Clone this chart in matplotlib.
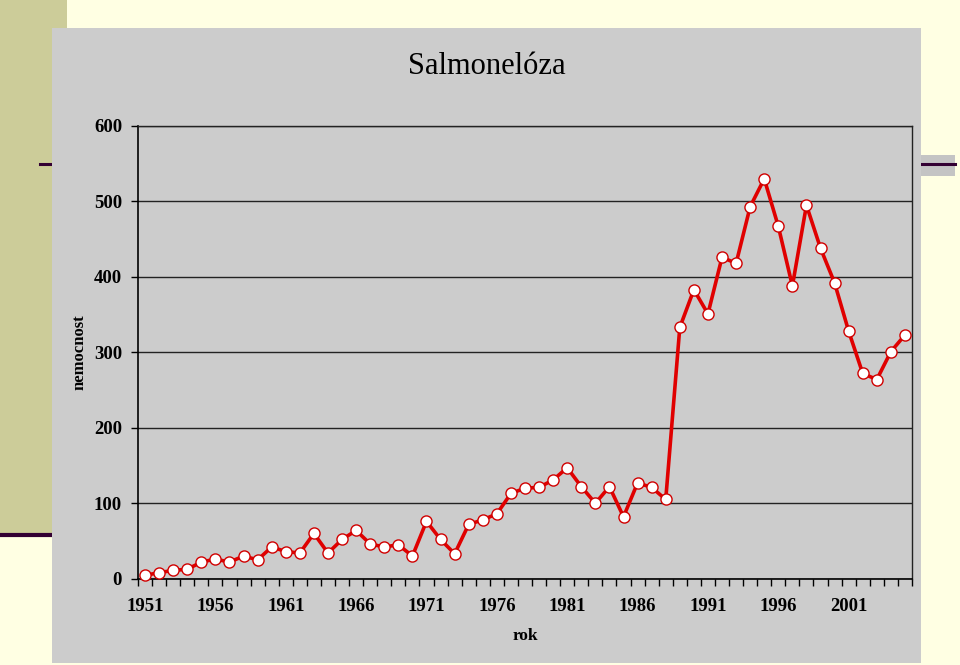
import numpy as np
import matplotlib.pyplot as plt
from matplotlib.patches import Rectangle
from matplotlib.lines import Line2D

# data
roky = list(range(1951, 2006))
nemocnost = [4.5, 8, 11, 12.5, 22, 26, 22, 30, 25, 42,
             36, 34, 60, 34, 52, 64, 46, 42, 45, 30,
             76, 52, 33, 72, 78, 86, 113, 120, 121, 131,
             147, 122, 100, 122, 82, 127, 121, 105, 333, 383,
             351, 426, 418, 493, 530, 467, 388, 495, 438, 392,
             328, 272, 264, 301, 323]
yticks = [0, 100, 200, 300, 400, 500, 600]

plt.rcParams['font.family'] = ['Liberation Serif', 'DejaVu Serif']

fig = plt.figure(figsize=(9.6, 6.65), dpi=100)
fig.patch.set_facecolor('#FFFFE3')

W, H = 960.0, 665.0
def px(x0, y0, x1, y1):
    # pixel box (top-left origin) -> figure fraction
    return (x0 / W, 1 - y1 / H, (x1 - x0) / W, (y1 - y0) / H)

# slide decoration
x, y, w, h = px(0, 0, 67, 535)
fig.patches.append(Rectangle((x, y), w, h, transform=fig.transFigure,
                             facecolor='#CCCC99', edgecolor='none', zorder=-5))
x, y, w, h = px(900, 155, 955, 176)
fig.patches.append(Rectangle((x, y), w, h, transform=fig.transFigure,
                             facecolor='#C4C4C4', edgecolor='none', zorder=-5))
fig.lines.append(Line2D([0, 52 / W], [1 - 535 / H] * 2, transform=fig.transFigure,
                        color='#330033', lw=3, zorder=-4))
fig.lines.append(Line2D([40 / W, 955 / W], [1 - 164 / H] * 2, transform=fig.transFigure,
                        color='#330033', lw=2.2, zorder=-4))

# chart panel
x, y, w, h = px(52, 28, 921, 663)
fig.patches.append(Rectangle((x, y), w, h, transform=fig.transFigure,
                             facecolor='#CCCCCC', edgecolor='none', zorder=-2))

ax = fig.add_axes(px(138, 126, 912, 578.7))
ax.set_facecolor('#CCCCCC')

xs = np.arange(len(roky))
ax.plot(xs, nemocnost, color='#E00000', lw=2.6, marker='o', markersize=8,
        markerfacecolor='white', markeredgecolor='#D00000', markeredgewidth=1.0,
        zorder=3, clip_on=False)

ax.set_xlim(-0.5, len(roky) - 0.5)
ax.set_ylim(0, 600)

ax.set_yticks(yticks)
ax.set_yticklabels([str(v) for v in yticks])
ax.grid(axis='y', color='#222222', lw=1.0)
ax.set_axisbelow(True)

lab_idx = [i for i, r in enumerate(roky) if (r - 1951) % 5 == 0 and r <= 2001]
ax.set_xticks(lab_idx)
ax.set_xticklabels([str(roky[i]) for i in lab_idx])
ax.set_xticks(np.arange(-0.5, len(roky)), minor=True)
ax.tick_params(axis='x', which='major', length=0, pad=14)
ax.tick_params(axis='x', which='minor', length=5, width=1, color='black', direction='out')
ax.tick_params(axis='y', length=5, width=1, color='black', direction='out', pad=6.5)
for lab in ax.get_xticklabels() + ax.get_yticklabels():
    lab.set_fontsize(13.5)
    lab.set_fontweight('bold')

for s in ['left', 'bottom']:
    ax.spines[s].set_color('black')
    ax.spines[s].set_linewidth(1.2)
for s in ['top', 'right']:
    ax.spines[s].set_color('#222222')
    ax.spines[s].set_linewidth(1.0)

fig.text(486.5 / W, 1 - 67 / H, 'Salmonelóza', ha='center', va='center', fontsize=22)
fig.text(80 / W, 1 - 352 / H, 'nemocnost', ha='center', va='center', rotation=90,
         fontsize=12, fontweight='bold')
fig.text(525 / W, 1 - 636 / H, 'rok', ha='center', va='center', fontsize=12.5,
         fontweight='bold')

fig.savefig('out.png', dpi=100, facecolor=fig.get_facecolor())
